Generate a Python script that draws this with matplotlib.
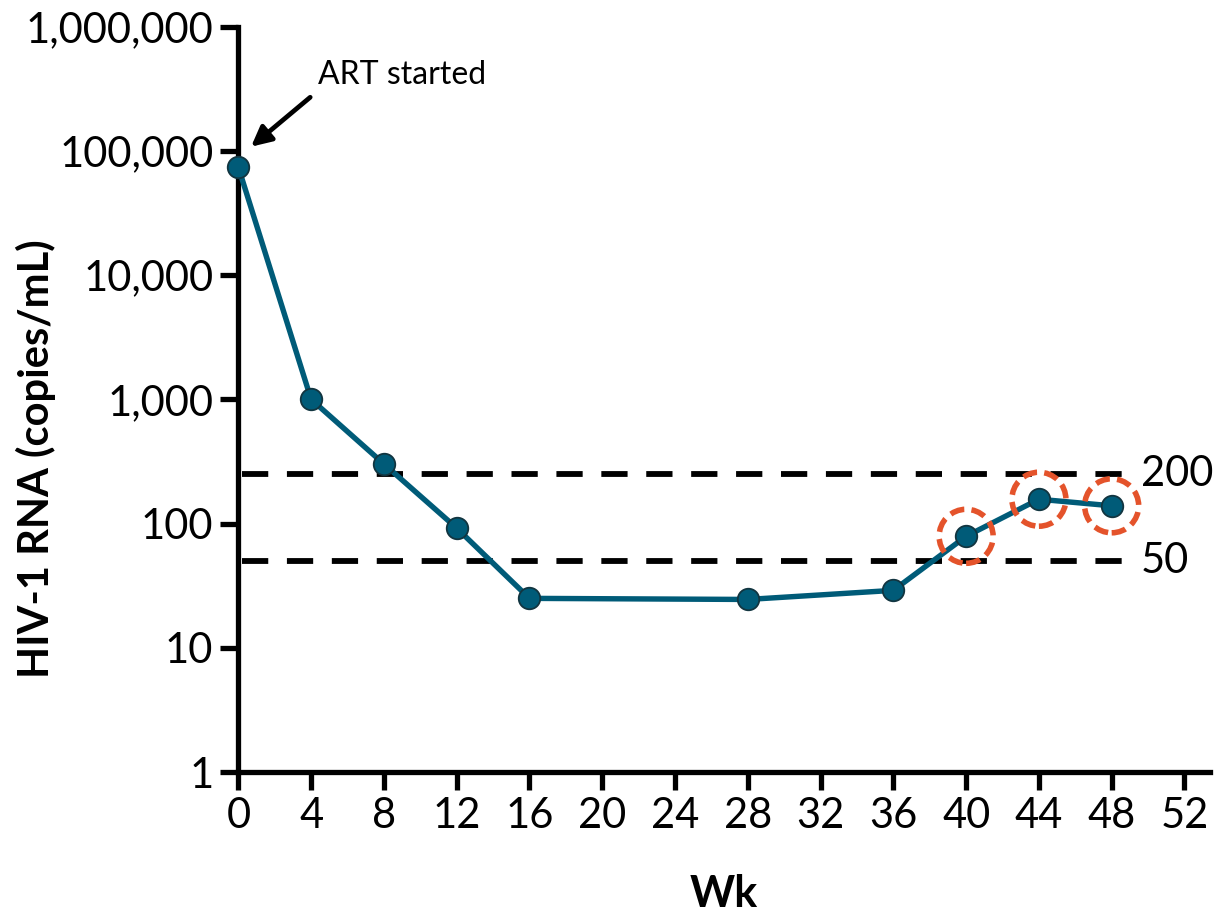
import numpy as np
import matplotlib
matplotlib.use("Agg")
import matplotlib.pyplot as plt
from matplotlib.patches import Circle
from matplotlib.ticker import FuncFormatter
import matplotlib.transforms as mtransforms

# donnees
semaines = [0, 4, 8, 12, 16, 28, 36, 40, 44, 48]
charge_virale = [74000, 1000, 302, 92, 25, 24.5, 29, 79, 157, 139]
semaines_cerclees = [40, 44, 48]
charge_cerclee = [79, 157, 139]
seuils = [250, 50]
seuils_labels = ["200", "50"]
xticks = list(range(0, 53, 4))
yticks = [1, 10, 100, 1000, 10000, 100000, 1000000]

plt.rcParams['font.family'] = ['Lato', 'DejaVu Sans']

fig = plt.figure(figsize=(12.16, 9.18), dpi=100)
ax = fig.add_axes([0.196, 0.159, 0.799, 0.812])

teal = "#005b78"
orange = "#e4532b"

# lignes de seuil en pointilles
for s in seuils:
    ax.plot([0.2, 48.6], [s, s], color="black", lw=4.2, dashes=(4.5, 3.2), zorder=2)
for s, lab in zip(seuils, seuils_labels):
    ax.text(49.6, s, lab, fontsize=30, va="center", ha="left")

# courbe principale
ax.plot(semaines, charge_virale, color=teal, lw=3.9, zorder=3, clip_on=False)
ax.plot(semaines, charge_virale, "o", ms=15.5, mfc=teal, mec="#123540", mew=1.3,
        zorder=4, clip_on=False)

# cercles orange autour des derniers points
for x, y in zip(semaines_cerclees, charge_cerclee):
    tr = fig.dpi_scale_trans + mtransforms.ScaledTranslation(x, y, ax.transData)
    c = Circle((0, 0), 0.27, transform=tr, fill=False, ec=orange, lw=4.0,
               linestyle=(0, (2.6, 1.3)), clip_on=False, zorder=5)
    ax.add_patch(c)

# annotation debut ART
ax.text(4.4, 410000, "ART started", fontsize=23, va="center", ha="left")
ax.annotate("", xy=(0.7, 108000), xytext=(3.95, 270000),
            arrowprops=dict(arrowstyle="-|>", color="black", lw=3.4,
                            mutation_scale=30, shrinkA=0, shrinkB=0))

ax.set_yscale("log")
ax.set_ylim(1, 1000000)
ax.set_xlim(0, 53.4)
ax.set_yticks(yticks)
ax.yaxis.set_major_formatter(FuncFormatter(lambda v, p: "{:,}".format(int(round(v)))))
ax.yaxis.set_minor_locator(matplotlib.ticker.NullLocator())
ax.set_xticks(xticks)

for side in ["top", "right"]:
    ax.spines[side].set_visible(False)
for side in ["left", "bottom"]:
    ax.spines[side].set_linewidth(3.8)
ax.tick_params(axis="both", which="major", direction="out", length=13, width=3.8,
               labelsize=30, pad=5)

ax.set_ylabel("HIV-1 RNA (copies/mL)", fontsize=30, fontweight="bold")
ax.yaxis.set_label_coords(-0.188, 0.42)
ax.set_xlabel("Wk", fontsize=31, fontweight="bold", labelpad=28)

fig.savefig("out.png", dpi=100)
